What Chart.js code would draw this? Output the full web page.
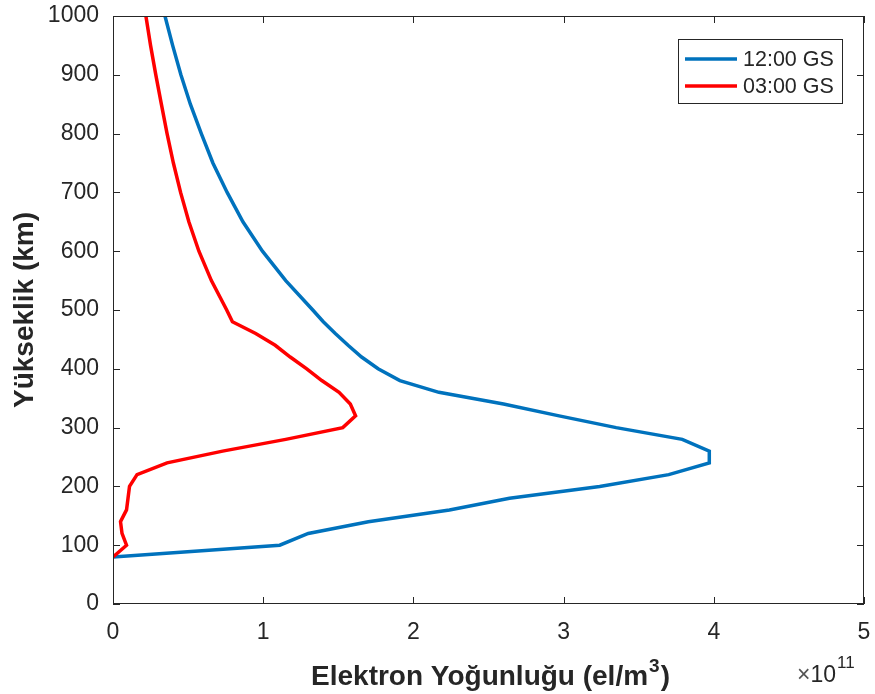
<!DOCTYPE html>
<html>
<head>
<meta charset="utf-8">
<script src="https://cdn.jsdelivr.net/npm/chart.js@4/dist/chart.umd.min.js"></script>
<style>
  html, body { margin: 0; padding: 0; background: #fff; }
  #wrap { width: 875px; height: 694px; }
</style>
</head>
<body>
<div id="wrap"><canvas id="profileChart" width="875" height="694"></canvas></div>
<script>
// altitude grid (km) and electron density (x 10^11 el/m^3)
const altitudes = [80, 100, 120, 140, 160, 180, 200, 220, 240, 260, 280, 300, 320, 340, 360, 380, 400,
                   420, 440, 460, 480, 500, 550, 600, 650, 700, 750, 800, 850, 900, 950, 1000];
const noonDensity = [0, 1.11, 1.30, 1.70, 2.24, 2.64, 3.24, 3.70, 3.97, 3.97, 3.79, 3.35, 2.97, 2.60, 2.17, 1.91, 1.765,
                     1.655, 1.565, 1.48, 1.40, 1.33, 1.15, 0.995, 0.865, 0.76, 0.665, 0.588, 0.515, 0.452, 0.397, 0.346];
const nightDensity = [0, 0.09, 0.06, 0.05, 0.09, 0.10, 0.11, 0.16, 0.36, 0.73, 1.15, 1.53, 1.615, 1.58, 1.505, 1.39, 1.29,
                      1.18, 1.08, 0.95, 0.795, 0.757, 0.655, 0.572, 0.505, 0.45, 0.402, 0.36, 0.322, 0.285, 0.25, 0.219];
const seriesLabels = ['12:00 GS', '03:00 GS'];
const seriesColors = ['#0072BD', '#FF0000'];
const xTicks = [0, 1, 2, 3, 4, 5];
const yTicks = [0, 100, 200, 300, 400, 500, 600, 700, 800, 900, 1000];

const axisColor = '#262626';
const fontFamily = '"Liberation Sans", Arial, Helvetica, sans-serif';

function toPoints(values) {
    return values.map((v, i) => ({ x: v, y: altitudes[i] }));
}

// no extra room for the outer tick labels, the box must fill the frame
function fixPadding(scale) {
    scale.paddingLeft = 0;
    scale.paddingRight = 0;
    scale.paddingTop = 0;
    scale.paddingBottom = 0;
}

// ============================================
// BOX, INSIDE TICKS, LEGEND AND AXIS TITLES
// ============================================
const matlabAxes = {
    id: 'matlabAxes',
    afterDraw(chart) {
        const ctx = chart.ctx;
        const { left, top, right, bottom } = chart.chartArea;
        const xs = chart.scales.x, ys = chart.scales.y;
        const tickLen = 7;

        ctx.save();
        ctx.strokeStyle = axisColor;
        ctx.lineWidth = 1;
        ctx.strokeRect(left + 0.5, top + 0.5, right - left - 1, bottom - top - 1);
        ctx.beginPath();
        xTicks.forEach(v => {
            const px = Math.round(xs.getPixelForValue(v)) + 0.5;
            ctx.moveTo(px, bottom); ctx.lineTo(px, bottom - tickLen);
            ctx.moveTo(px, top); ctx.lineTo(px, top + tickLen);
        });
        yTicks.forEach(v => {
            const py = Math.round(ys.getPixelForValue(v)) + 0.5;
            ctx.moveTo(left, py); ctx.lineTo(left + tickLen, py);
            ctx.moveTo(right, py); ctx.lineTo(right - tickLen, py);
        });
        ctx.stroke();

        // legend
        const boxW = 164, boxH = 64;
        const bx = right - 22 - boxW, by = top + 23;
        ctx.fillStyle = '#fff';
        ctx.fillRect(bx, by, boxW, boxH);
        ctx.strokeRect(bx + 0.5, by + 0.5, boxW, boxH);
        ctx.font = '21.5px ' + fontFamily;
        ctx.textBaseline = 'middle';
        ctx.textAlign = 'left';
        seriesLabels.forEach((label, i) => {
            const ly = by + 20 + i * 27;
            ctx.strokeStyle = seriesColors[i];
            ctx.lineWidth = 3.5;
            ctx.beginPath();
            ctx.moveTo(bx + 7, ly); ctx.lineTo(bx + 59, ly);
            ctx.stroke();
            ctx.fillStyle = axisColor;
            ctx.fillText(label, bx + 65, ly + 1);
        });

        // x axis title with superscript
        ctx.textBaseline = 'alphabetic';
        const cx = (left + right) / 2 + 2;
        const ty = 685;
        ctx.fillStyle = axisColor;
        const titleFont = 'bold 28px ' + fontFamily;
        const supFont = 'bold 19px ' + fontFamily;
        ctx.font = titleFont;
        const part1 = 'Elektron Yoğunluğu (el/m';
        const part3 = ')';
        const w1 = ctx.measureText(part1).width;
        const w3 = ctx.measureText(part3).width;
        ctx.font = supFont;
        const w2 = ctx.measureText('3').width + 2;
        const sx = cx - (w1 + w2 + w3) / 2;
        ctx.font = titleFont;
        ctx.fillText(part1, sx, ty);
        ctx.font = supFont;
        ctx.fillText('3', sx + w1 + 1, ty - 13);
        ctx.font = titleFont;
        ctx.fillText(part3, sx + w1 + w2, ty);

        // exponent
        ctx.font = '23px ' + fontFamily;
        ctx.fillStyle = '#555';
        ctx.fillText('×', 797, 682);
        const wx = ctx.measureText('×').width;
        ctx.fillStyle = axisColor;
        ctx.fillText('10', 797 + wx, 682);
        const we = wx + ctx.measureText('10').width;
        ctx.font = '17px ' + fontFamily;
        ctx.fillText('11', 797 + we + 1, 668);

        // y axis title
        ctx.translate(33, (top + bottom) / 2);
        ctx.rotate(-Math.PI / 2);
        ctx.textAlign = 'center';
        ctx.font = titleFont;
        ctx.fillText('Yükseklik (km)', 0, 0);
        ctx.restore();
    }
};

const ctx = document.getElementById('profileChart').getContext('2d');
new Chart(ctx, {
    type: 'scatter',
    data: {
        datasets: [
            {
                label: seriesLabels[0],
                data: toPoints(noonDensity),
                borderColor: seriesColors[0],
                showLine: true,
                borderWidth: 3.5,
                pointRadius: 0,
                order: 2
            },
            {
                label: seriesLabels[1],
                data: toPoints(nightDensity),
                borderColor: seriesColors[1],
                showLine: true,
                borderWidth: 3.5,
                pointRadius: 0,
                order: 1
            }
        ]
    },
    options: {
        responsive: false,
        animation: false,
        layout: { padding: { top: 16, right: 11, left: 0, bottom: 0 } },
        plugins: {
            legend: { display: false },
            tooltip: { enabled: false }
        },
        scales: {
            x: {
                type: 'linear',
                min: 0, max: 5,
                afterFit: scale => { scale.height = 90; fixPadding(scale); },
                afterBuildTicks: scale => { scale.ticks = xTicks.map(v => ({ value: v })); },
                grid: { display: false, drawTicks: false },
                border: { display: false },
                ticks: {
                    color: axisColor,
                    padding: 15,
                    font: { family: fontFamily, size: 23 },
                    maxRotation: 0,
                    callback: v => String(v)
                }
            },
            y: {
                type: 'linear',
                min: 0, max: 1000,
                afterFit: scale => { scale.width = 113; fixPadding(scale); },
                afterBuildTicks: scale => { scale.ticks = yTicks.map(v => ({ value: v })); },
                grid: { display: false, drawTicks: false },
                border: { display: false },
                ticks: {
                    color: axisColor,
                    padding: 14,
                    font: { family: fontFamily, size: 23 },
                    callback: v => String(v)
                }
            }
        }
    },
    plugins: [matlabAxes]
});
</script>
</body>
</html>
